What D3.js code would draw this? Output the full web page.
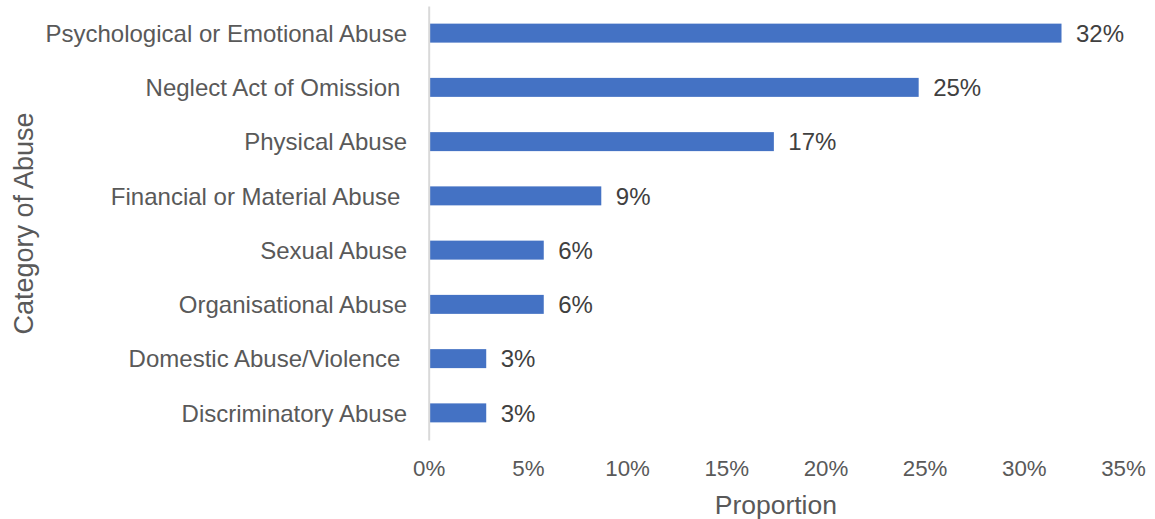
<!DOCTYPE html>
<html>
<head>
<meta charset="utf-8">
<script src="https://cdn.jsdelivr.net/npm/d3@7/dist/d3.min.js"></script>
<style>
  html, body { margin: 0; padding: 0; background: #ffffff; }
  svg { display: block; font-family: "Liberation Sans", Arial, sans-serif; }
  text { white-space: pre; }
</style>
</head>
<body>
<svg id="chart" width="1155" height="519"></svg>
<script>
// Categories of abuse (trailing spaces kept as in the source labels)
const categories = [
  "Psychological or Emotional Abuse",
  "Neglect Act of Omission ",
  "Physical Abuse",
  "Financial or Material Abuse ",
  "Sexual Abuse",
  "Organisational Abuse",
  "Domestic Abuse/Violence ",
  "Discriminatory Abuse"
];
// Proportion of cases per category
const proportions = [0.319, 0.247, 0.174, 0.087, 0.058, 0.058, 0.029, 0.029];
// Axis ticks on the proportion axis
const tickValues = [0, 0.05, 0.10, 0.15, 0.20, 0.25, 0.30, 0.35];

const xTitle = "Proportion";
const yTitle = "Category of Abuse";

const textColor = "#595959";
const barColor = "#4472C4";
const axisColor = "#D9D9D9";

const plot = { left: 428.7, right: 1123, top: 6, bottom: 440 };

const svg = d3.select("#chart");

const x = d3.scaleLinear()
  .domain([0, 0.35])
  .range([plot.left, plot.right]);

const y = d3.scaleBand()
  .domain(categories)
  .range([plot.top, plot.bottom])
  .paddingInner(0.65)
  .paddingOuter(0.325);

const rows = categories.map((c, i) => ({ category: c, value: proportions[i] }));

// Bars
svg.append("g")
  .selectAll("rect")
  .data(rows)
  .join("rect")
  .attr("x", x(0) + 1)
  .attr("y", d => y(d.category))
  .attr("width", d => x(d.value) - x(0) - 1)
  .attr("height", y.bandwidth())
  .attr("fill", barColor);

// Category axis with its vertical line at zero
const yAxis = svg.append("g")
  .attr("transform", `translate(${x(0)},0)`)
  .call(d3.axisLeft(y).tickSize(0).tickSizeOuter(0).tickPadding(21.7));
yAxis.select(".domain")
  .attr("stroke", axisColor)
  .attr("stroke-width", 2);
yAxis.selectAll(".tick text")
  .attr("fill", textColor)
  .attr("font-size", "24px")
  .attr("font-family", "'Liberation Sans', Arial, sans-serif")
  .attr("dy", "0.36em");

// Proportion axis: labels only
const xAxis = svg.append("g")
  .attr("transform", `translate(0,${plot.bottom})`)
  .call(d3.axisBottom(x).tickValues(tickValues).tickFormat(d3.format(".0%")).tickSize(0).tickPadding(20));
xAxis.select(".domain").remove();
xAxis.selectAll(".tick text")
  .attr("fill", textColor)
  .attr("font-size", "22.3px")
  .attr("font-family", "'Liberation Sans', Arial, sans-serif");

// Value labels at the bar ends
const fmt = d3.format(".0%");
svg.append("g")
  .selectAll("text")
  .data(rows)
  .join("text")
  .attr("x", d => x(d.value) + 14.5)
  .attr("y", d => y(d.category) + y.bandwidth() / 2)
  .attr("dy", "0.36em")
  .attr("fill", "#404040")
  .attr("font-size", "24px")
  .text(d => fmt(d.value));

// Axis titles
svg.append("text")
  .attr("x", (plot.left + plot.right) / 2)
  .attr("y", 514.3)
  .attr("text-anchor", "middle")
  .attr("fill", textColor)
  .attr("font-size", "26.5px")
  .text(xTitle);

svg.append("text")
  .attr("transform", `translate(33,${(plot.top + plot.bottom) / 2 + 0.5}) rotate(-90)`)
  .attr("text-anchor", "middle")
  .attr("fill", textColor)
  .attr("font-size", "27px")
  .text(yTitle);
</script>
</body>
</html>
